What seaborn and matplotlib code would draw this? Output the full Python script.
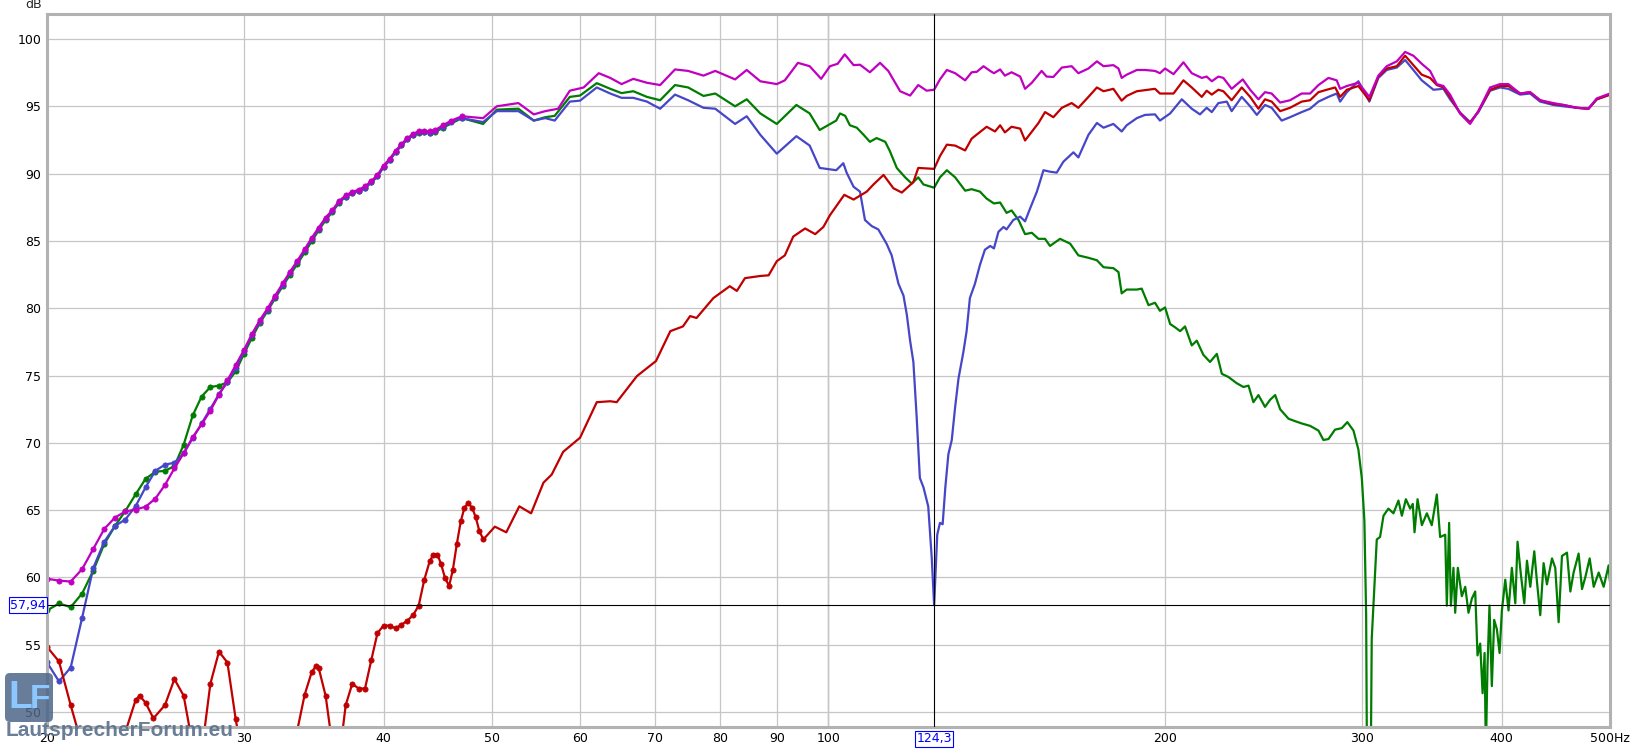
import numpy as np
import pandas as pd
import matplotlib
matplotlib.use('Agg')
import matplotlib.pyplot as plt
from matplotlib.patches import FancyBboxPatch
from matplotlib.transforms import IdentityTransform, blended_transform_factory
import seaborn as sns

# measurement grid of the low end (dots visible there)
freq_low = [20, 20.5, 21, 21.5, 22, 22.5, 23, 23.5, 24, 24.5,
            25, 25.5, 26, 26.5, 27, 27.5, 28, 28.5, 29, 29.5,
            30, 30.5, 31, 31.5, 32, 32.5, 33, 33.5, 34, 34.5,
            35, 35.5, 36, 36.5, 37, 37.5, 38, 38.5, 39, 39.5,
            40, 40.5, 41, 41.5, 42, 42.5, 43, 43.5, 44, 44.5]

magenta_low = [59.90, 59.76, 59.69, 60.61, 62.12, 63.59, 64.44, 64.90, 65.04, 65.25,
               65.85, 66.87, 68.10, 69.22, 70.42, 71.37, 72.39, 73.58, 74.64, 75.77,
               76.89, 78.09, 79.11, 79.99, 80.94, 81.85, 82.73, 83.54, 84.38, 85.23,
               86.00, 86.74, 87.30, 87.97, 88.39, 88.64, 88.81, 89.06, 89.45, 89.90,
               90.61, 91.10, 91.70, 92.19, 92.65, 92.93, 93.18, 93.18, 93.14, 93.25]

blue_low = [53.68, 52.27, 53.30, 57.00, 60.71, 62.64, 63.81, 64.30, 65.28, 66.69,
            67.92, 68.38, 68.52, 69.22, 70.35, 71.44, 72.53, 73.62, 74.50, 75.55,
            76.80, 78.00, 79.00, 79.90, 80.85, 81.75, 82.65, 83.45, 84.30, 85.15,
            85.90, 86.65, 87.20, 87.90, 88.30, 88.55, 88.70, 88.95, 89.35, 89.80,
            90.50, 91.00, 91.60, 92.10, 92.55, 92.85, 93.10, 93.10, 93.05, 93.15]

green_low = [57.54, 58.06, 57.79, 58.80, 60.50, 62.47, 63.81, 64.93, 66.16, 67.32,
             67.85, 67.92, 68.27, 69.86, 72.04, 73.44, 74.15, 74.25, 74.50, 75.31,
             76.60, 77.80, 78.90, 79.80, 80.75, 81.65, 82.50, 83.30, 84.15, 85.00,
             85.80, 86.55, 87.15, 87.85, 88.30, 88.55, 88.70, 88.95, 89.35, 89.80,
             90.50, 91.00, 91.60, 92.10, 92.55, 92.85, 93.05, 93.10, 93.05, 93.10]

magenta_hi = [(45.2, 93.60), (46.0, 93.95), (47.0, 94.27), (49.1, 94.13), (50.5, 95.01),
              (52.8, 95.25), (54.5, 94.41), (55.8, 94.65), (57.3, 94.83), (58.7, 96.17),
              (60.4, 96.41), (62.3, 97.47), (63.8, 97.12), (65.3, 96.66), (66.9, 97.05),
              (68.8, 96.76), (70.7, 96.59), (72.9, 97.75), (74.9, 97.64), (77.3, 97.29),
              (79.2, 97.64), (82.5, 97.01), (84.5, 97.71), (86.9, 96.87), (89.9, 96.66),
              (91.4, 96.94), (93.9, 98.24), (96.2, 97.99), (98.5, 97.05), (100.3, 97.99),
              (101.9, 98.17), (103.4, 98.87), (105.3, 98.07), (106.7, 98.10), (108.9, 97.54),
              (111.2, 98.24), (113.1, 97.64), (115.9, 96.13), (118.3, 95.81), (120.3, 96.59),
              (122.4, 96.17), (124.3, 96.24), (125.8, 97.01), (127.6, 97.71), (129.8, 97.47),
              (132.5, 96.94), (134.3, 97.54), (135.7, 97.57), (137.6, 97.99), (139.5, 97.64),
              (140.6, 97.47), (142.4, 97.75), (143.8, 97.29), (145.8, 97.54), (148.4, 97.22),
              (149.9, 96.31), (152.0, 96.76), (155.1, 97.64), (156.7, 97.22), (158.9, 97.19),
              (161.7, 97.89), (165.0, 97.99), (167.3, 97.47), (170.8, 97.82), (173.8, 98.35),
              (176.2, 97.99), (179.8, 98.07), (181.7, 97.82), (182.9, 97.12), (184.8, 97.36),
              (188.7, 97.71), (191.9, 97.71), (195.9, 97.64), (197.9, 97.47), (200.0, 97.82),
              (203.5, 97.40), (207.7, 98.28), (211.3, 97.47), (215.7, 97.12), (217.9, 97.22),
              (220.2, 96.87), (223.2, 97.22), (225.5, 97.12), (229.4, 96.31), (234.7, 97.01),
              (238.3, 96.24), (242.4, 95.53), (245.7, 96.06), (249.1, 95.96), (253.5, 95.29),
              (258.7, 95.46), (265.0, 95.96), (269.6, 95.96), (274.3, 96.59), (280.0, 97.12),
              (284.8, 96.94), (286.8, 96.31), (290.8, 96.52), (297.8, 96.76), (304.6, 95.71),
              (310.3, 97.29), (315.7, 97.99), (322.3, 98.35), (327.9, 99.05), (333.5, 98.77),
              (339.3, 98.17), (345.2, 97.64), (350.0, 96.66), (354.8, 96.52), (359.7, 95.88),
              (367.2, 94.48), (374.8, 93.70), (381.3, 94.65), (390.6, 96.41), (398.7, 96.66),
              (405.6, 96.66), (415.5, 95.96), (424.1, 96.06), (433.0, 95.46), (445.0, 95.25),
              (454.3, 95.11), (466.9, 94.90), (478.3, 94.83), (486.6, 95.60), (500.0, 95.96)]

blue_hi = [(45.2, 93.50), (46.0, 93.85), (47.0, 94.13), (49.1, 93.84), (50.5, 94.65),
           (52.8, 94.65), (54.5, 93.95), (55.8, 94.13), (56.9, 93.95), (58.7, 95.36),
           (59.95, 95.43), (62.05, 96.41), (63.8, 95.96), (65.3, 95.64), (66.9, 95.64),
           (68.8, 95.36), (70.7, 94.83), (72.9, 95.88), (74.9, 95.46), (77.3, 94.90),
           (79.2, 94.83), (82.5, 93.70), (84.5, 94.27), (86.9, 92.89), (89.9, 91.49),
           (93.6, 92.79), (96.2, 92.09), (98.2, 90.43), (101.6, 90.26), (103.1, 90.78),
           (103.8, 90.08), (105.3, 89.03), (106.7, 88.67), (107.8, 86.56), (109.3, 86.11),
           (110.8, 85.86), (112.7, 84.80), (113.9, 83.93), (115.5, 81.82), (116.7, 80.94),
           (117.5, 79.53), (118.3, 77.59), (119.1, 76.01), (119.9, 71.97), (120.7, 67.39),
           (121.6, 66.69), (122.8, 65.28), (123.7, 61.41), (124.3, 57.94), (125.1, 63.17),
           (125.8, 64.05), (126.5, 63.95), (127.2, 66.69), (128.0, 69.15), (128.9, 70.21),
           (129.8, 72.67), (130.7, 74.78), (132.0, 76.72), (132.9, 78.30), (133.8, 80.76),
           (135.2, 81.82), (136.6, 83.22), (138.0, 84.35), (139.5, 84.63), (140.6, 84.45),
           (141.9, 85.68), (143.4, 86.04), (144.3, 85.86), (146.3, 86.56), (148.4, 86.81),
           (149.9, 86.46), (151.5, 87.44), (153.6, 88.67), (155.7, 90.26), (157.8, 90.15),
           (160.0, 90.08), (162.2, 90.89), (165.6, 91.59), (167.3, 91.21), (170.8, 92.89),
           (173.8, 93.77), (176.2, 93.42), (179.8, 93.70), (182.9, 93.14), (184.8, 93.60),
           (188.7, 94.13), (191.9, 94.37), (195.9, 94.41), (197.9, 93.95), (202.1, 94.48),
           (207.0, 95.53), (211.3, 94.83), (214.9, 94.41), (217.9, 94.90), (220.2, 94.58),
           (223.2, 95.25), (227.1, 95.36), (229.4, 94.65), (234.2, 95.71), (238.3, 95.01),
           (241.6, 94.37), (245.7, 95.11), (249.1, 94.90), (254.3, 93.95), (258.7, 94.20),
           (265.0, 94.58), (269.6, 94.83), (274.3, 95.36), (280.0, 95.71), (284.8, 95.96),
           (286.8, 95.36), (290.8, 96.06), (297.8, 96.87), (304.6, 95.36), (310.3, 97.12),
           (315.7, 97.71), (322.3, 97.89), (327.9, 98.45), (333.5, 97.71), (339.3, 96.94),
           (347.6, 96.24), (354.8, 96.31), (359.7, 95.53), (367.2, 94.55), (374.8, 93.84),
           (381.3, 94.58), (390.6, 96.17), (398.7, 96.41), (405.6, 96.31), (415.5, 95.88),
           (424.1, 95.96), (433.0, 95.36), (445.0, 95.11), (454.3, 95.01), (466.9, 94.90),
           (478.3, 94.83), (486.6, 95.53), (500.0, 95.88)]

green_hi = [(45.2, 93.42), (47.0, 94.13), (49.1, 93.70), (50.5, 94.76), (52.8, 94.83),
            (54.5, 93.95), (55.8, 94.20), (56.9, 94.30), (58.7, 95.71), (59.95, 95.81),
            (62.05, 96.73), (63.8, 96.31), (65.3, 95.99), (66.9, 96.13), (68.8, 95.71),
            (70.7, 95.46), (72.9, 96.59), (74.9, 96.41), (77.3, 95.78), (79.2, 95.96),
            (82.5, 95.01), (84.5, 95.53), (86.9, 94.48), (89.9, 93.70), (93.6, 95.11),
            (96.2, 94.48), (98.2, 93.25), (101.6, 93.95), (102.4, 94.48), (103.5, 94.30),
            (104.5, 93.60), (106.0, 93.42), (107.5, 92.89), (108.9, 92.37), (110.4, 92.65),
            (112.4, 92.37), (113.5, 91.66), (115.1, 90.43), (117.1, 89.73), (118.7, 89.27),
            (120.3, 89.73), (121.6, 89.20), (124.3, 88.96), (125.8, 89.73), (127.6, 90.26),
            (129.8, 89.73), (132.5, 88.74), (134.3, 88.85), (136.6, 88.67), (138.5, 88.15),
            (140.6, 87.79), (142.4, 87.86), (144.3, 87.09), (145.8, 87.27), (147.9, 86.56),
            (149.9, 85.51), (152.0, 85.61), (154.1, 85.16), (156.2, 85.16), (157.8, 84.63),
            (161.1, 85.16), (164.5, 84.80), (167.3, 83.93), (170.8, 83.75), (173.8, 83.57),
            (176.2, 83.05), (179.8, 82.98), (181.7, 82.69), (182.9, 81.11), (184.8, 81.39),
            (188.7, 81.39), (190.6, 81.46), (193.3, 80.23), (195.9, 80.41), (197.9, 79.81),
            (200.0, 80.06), (202.1, 78.83), (204.2, 78.58), (206.3, 78.30), (208.4, 78.65),
            (211.3, 77.24), (213.5, 77.59), (216.4, 76.54), (219.4, 76.01), (222.5, 76.61),
            (224.8, 75.13), (227.9, 74.89), (231.8, 74.43), (235.0, 74.15), (237.5, 74.25),
            (239.9, 73.02), (242.4, 73.55), (245.7, 72.67), (248.3, 73.20), (250.9, 73.55),
            (253.5, 72.49), (257.9, 71.79), (261.4, 71.61), (265.0, 71.44), (269.6, 71.26),
            (274.3, 70.91), (277.1, 70.21), (280.0, 70.28), (283.8, 70.98), (287.8, 71.09),
            (291.1, 71.54), (294.8, 70.91), (297.8, 69.50), (299.9, 67.39), (301.5, 64.23),
            (302.6, 57.19), (303.4, 40.0), (305.1, 40.0), (306.1, 55.43), (307.6, 58.95),
            (309.3, 62.82), (311.4, 63.00), (313.6, 64.58), (316.8, 65.11), (320.1, 64.76),
            (323.4, 65.71), (325.7, 64.58), (328.4, 65.81), (331.3, 65.11), (333.1, 65.46),
            (334.3, 63.35), (336.4, 65.81), (339.4, 63.88), (342.9, 64.76), (346.4, 63.88),
            (350.0, 66.16), (352.4, 63.00), (356.1, 63.17), (357.3, 57.90), (359.0, 64.05),
            (360.3, 57.90), (362.2, 60.71), (363.5, 57.37), (365.5, 60.71), (368.5, 58.60),
            (371.1, 59.30), (373.6, 57.37), (376.2, 58.42), (378.8, 58.95), (380.6, 54.20),
            (382.7, 55.08), (384.6, 51.39), (386.2, 54.38), (387.2, 47.0), (388.5, 53.32),
            (390.1, 57.90), (392.0, 51.92), (393.9, 56.84), (396.1, 56.14), (398.3, 54.38),
            (400.2, 57.54), (403.0, 59.83), (405.7, 57.54), (408.5, 60.71), (411.4, 58.07),
            (413.3, 62.65), (416.2, 60.18), (419.1, 58.07), (421.4, 61.24), (424.3, 59.30),
            (427.8, 61.94), (430.2, 59.66), (433.1, 57.19), (436.1, 61.06), (439.1, 59.48),
            (443.7, 61.41), (446.7, 60.71), (449.8, 56.67), (452.9, 61.59), (457.6, 61.84),
            (460.8, 58.95), (463.9, 60.36), (468.7, 61.77), (472.0, 59.13), (475.2, 60.01),
            (479.5, 61.41), (483.5, 59.30), (488.5, 60.36), (493.5, 59.30), (498.6, 60.89),
            (500.0, 59.66)]

red = [(20, 54.84), (20.5, 53.75), (21, 50.5), (21.5, 47.5), (22, 45.5), (22.5, 44.0),
       (23, 44.5), (23.5, 48.5), (24, 50.86), (24.2, 51.21), (24.5, 50.69), (24.9, 49.52),
       (25.5, 50.51), (26, 52.44), (26.5, 51.21), (27, 47.5), (27.5, 47.0), (28, 52.1),
       (28.5, 54.48), (29, 53.67), (29.5, 49.45), (30, 46.0), (30.5, 44.0), (31, 43.0),
       (31.5, 43.0), (32, 44.0), (32.5, 46.0), (33, 47.5), (33.5, 48.7), (34, 51.28),
       (34.5, 52.97), (34.8, 53.4), (35, 53.25), (35.5, 51.21), (36, 47.5), (36.5, 46.5),
       (37, 50.51), (37.5, 52.09), (38, 51.74), (38.5, 51.74), (39, 53.85), (39.5, 55.86),
       (40, 56.42), (40.5, 56.42), (41, 56.21), (41.5, 56.49), (42, 56.77), (42.5, 57.19),
       (43, 57.90), (43.5, 59.83), (44, 61.24), (44.33, 61.70), (44.69, 61.70), (45.03, 60.99),
       (45.40, 59.94), (45.78, 59.37), (46.13, 60.54), (46.51, 62.47), (46.89, 64.16),
       (47.25, 65.18), (47.61, 65.53), (48.00, 65.18), (48.36, 64.47), (48.73, 63.42),
       (49.13, 62.82), (50.3, 63.77), (51.5, 63.35), (52.9, 65.28), (54.2, 64.76),
       (55.6, 67.04), (56.55, 67.64), (57.9, 69.33), (59.95, 70.38), (62.05, 73.02),
       (63.8, 73.09), (64.65, 73.02), (67.4, 74.96), (70.1, 76.08), (72.2, 78.30),
       (74.1, 78.65), (75.2, 79.42), (76.2, 79.28), (78.9, 80.76), (81.6, 81.64),
       (82.8, 81.29), (84.2, 82.24), (86.9, 82.40), (88.4, 82.45), (89.9, 83.50),
       (91.4, 83.93), (93.0, 85.33), (95.3, 85.93), (97.3, 85.51), (98.95, 86.04),
       (100.3, 86.92), (103.3, 88.43), (105.3, 88.08), (108.2, 88.67), (109.7, 89.20),
       (112.0, 89.91), (114.3, 88.92), (116.3, 88.60), (119.1, 89.38), (120.3, 90.43),
       (124.3, 90.36), (125.8, 91.31), (127.6, 92.16), (129.8, 92.09), (132.5, 91.73),
       (134.3, 92.61), (138.5, 93.49), (140.9, 93.14), (142.4, 93.60), (143.8, 93.07),
       (145.8, 93.49), (148.4, 93.35), (149.9, 92.47), (154.1, 93.77), (156.2, 94.58),
       (158.9, 94.20), (161.7, 94.90), (165.0, 95.25), (167.3, 94.90), (170.8, 95.71),
       (173.8, 96.41), (176.2, 96.13), (179.8, 96.31), (182.9, 95.43), (184.8, 95.78),
       (188.7, 96.13), (195.9, 96.31), (197.9, 95.96), (203.5, 95.96), (207.7, 96.94),
       (211.3, 96.41), (215.7, 95.71), (217.9, 96.17), (220.2, 95.88), (223.2, 96.24),
       (225.5, 96.13), (229.4, 95.46), (234.2, 96.41), (238.3, 95.71), (242.4, 94.83),
       (245.7, 95.53), (249.1, 95.36), (253.5, 94.65), (258.7, 94.90), (265.0, 95.36),
       (269.6, 95.46), (274.3, 96.06), (279.0, 96.24), (283.9, 96.41), (286.8, 95.71),
       (290.8, 96.24), (297.8, 96.52), (304.6, 95.46), (310.3, 97.22), (315.7, 97.82),
       (322.3, 97.99), (327.9, 98.77), (333.5, 98.07), (339.3, 97.36), (345.2, 97.12),
       (350.0, 96.59), (354.8, 96.41), (359.7, 95.71), (367.2, 94.48), (374.8, 93.77),
       (381.3, 94.65), (390.6, 96.24), (398.7, 96.52), (405.6, 96.52), (415.5, 95.96),
       (424.1, 96.06), (433.0, 95.46), (445.0, 95.18), (454.3, 95.11), (466.9, 94.90),
       (478.3, 94.83), (486.6, 95.53), (500.0, 95.88)]

x_ticks = [20, 30, 40, 50, 60, 70, 80, 90, 100, 200, 300, 400, 500]
x_labels = ['20', '30', '40', '50', '60', '70', '80', '90', '100', '200', '300', '400', '500Hz']
y_ticks = [50, 55, 60, 65, 70, 75, 80, 85, 90, 95, 100]
cursor_f = 124.3
cursor_db = 57.94


def make_df(low, hi):
    freqs = freq_low + [f for f, _ in hi]
    dbs = low + [d for _, d in hi]
    return pd.DataFrame({'freq': freqs, 'db': dbs})


sns.set_style('white')
plt.rcParams['font.family'] = ['DejaVu Sans']

fig = plt.figure(figsize=(16.33, 7.49), dpi=100)
ax = fig.add_axes([47 / 1633, 22 / 749, 1563 / 1633, 713 / 749])
ax.set_xscale('log')

series = [
    (make_df(blue_low, blue_hi), '#4646c8', 47.1, 2.2),
    (make_df(green_low, green_hi), '#007d00', 47.1, 2.1),
    (pd.DataFrame(red, columns=['freq', 'db']), '#c00000', 49.2, 2.3),
    (make_df(magenta_low, magenta_hi), '#c000c0', 47.1, 2.4),
]
for df, col, cut, z in series:
    mask = (df['freq'] <= cut).tolist()
    sns.lineplot(data=df, x='freq', y='db', ax=ax, color=col, lw=1.6,
                 marker='o', markersize=3.8, markevery=mask,
                 markeredgecolor=col, markeredgewidth=0.5,
                 estimator=None, sort=False, zorder=z)

ax.set_xlim(20, 500)
ax.set_ylim(48.88, 101.87)
ax.set_xticks(x_ticks)
ax.set_xticklabels(x_labels)
ax.xaxis.set_minor_locator(matplotlib.ticker.NullLocator())
ax.set_yticks(y_ticks)
ax.set_yticklabels([str(v) for v in y_ticks])
ax.set_xlabel('')
ax.set_ylabel('')
ax.tick_params(length=0, labelsize=9, colors='black')
ax.tick_params(axis='y', pad=4.0)
ax.tick_params(axis='x', pad=3.5)
ax.grid(True, color='#c6c6c6', lw=0.9, zorder=0)
ax.set_axisbelow(True)
ax.axvline(100, color='#8e8e8e', lw=0.9, zorder=0.5)
for sp in ax.spines.values():
    sp.set_color('#b2b2b2')
    sp.set_linewidth(2.2)

# cursor
ax.axvline(cursor_f, color='black', lw=0.8, zorder=5)
ax.axhline(cursor_db, color='black', lw=0.8, zorder=5)
box = dict(boxstyle='square,pad=0.12', fc='white', ec='#0000ff', lw=0.8)
ax.text(-0.0122, cursor_db, '57,94', transform=blended_transform_factory(ax.transAxes, ax.transData),
        ha='center', va='center', fontsize=9, color='#0000ff', bbox=box, clip_on=False, zorder=6)
ax.text(cursor_f, -0.0168, '124,3', transform=blended_transform_factory(ax.transData, ax.transAxes),
        ha='center', va='center', fontsize=9, color='#0000ff', bbox=box, clip_on=False, zorder=6)

fig.text(42 / 1633, 1 - 5 / 749, 'dB', ha='right', va='center', fontsize=9)

# logo
ident = IdentityTransform()
logo = FancyBboxPatch((5, 27), 48, 49, boxstyle='round,pad=0,rounding_size=5',
                      transform=ident, fc='#4d6688', ec='none', alpha=0.85, zorder=8)
fig.add_artist(logo)
fig.text(20, 51, 'L', transform=ident, ha='center', va='center', fontsize=28,
         family='Liberation Sans', weight='bold', color='#8cc8ff', zorder=9)
fig.text(40, 49, 'F', transform=ident, ha='center', va='center', fontsize=24,
         family='Liberation Sans', weight='bold', color='#8cc8ff', zorder=9)
fig.text(6, 749 - 731, 'LautsprecherForum.eu', transform=ident, ha='left', va='center',
         fontsize=15, family='Liberation Sans', weight='bold', color='#5a708c',
         alpha=0.9, zorder=9)

fig.savefig('out.png', dpi=100, facecolor='white')
